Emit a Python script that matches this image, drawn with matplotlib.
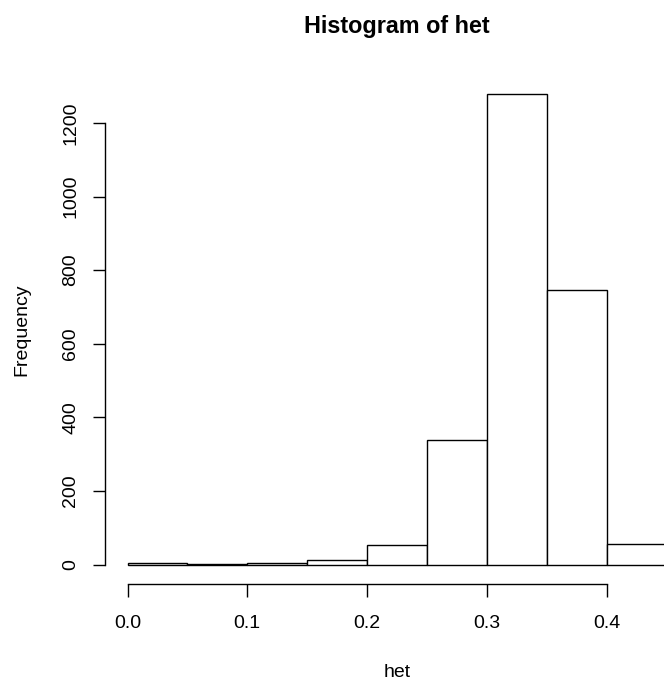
import matplotlib
matplotlib.use("Agg")
import matplotlib.pyplot as plt
import numpy as np

plt.rcParams['font.family'] = ['Liberation Sans', 'DejaVu Sans']

# Data
bin_left = [0.00, 0.05, 0.10, 0.15, 0.20, 0.25, 0.30, 0.35, 0.40]
bin_width = 0.05
counts = [5, 2, 4, 12, 54, 340, 1279, 745, 56]
x_ticks = [0.0, 0.1, 0.2, 0.3, 0.4]
x_tick_labels = ["0.0", "0.1", "0.2", "0.3", "0.4"]
y_ticks = [0, 200, 400, 600, 800, 1000, 1200]
y_tick_labels = ["0", "200", "400", "600", "800", "1000", "1200"]

W, H = 664, 683
fig = plt.figure(figsize=(W / 100, H / 100), dpi=100)

left_px = 105.3
bottom_px = 583.5
top_px = 75.0
ax = fig.add_axes([left_px / W, 1 - bottom_px / H, 1 - left_px / W, (bottom_px - top_px) / H])

ax.bar(bin_left, counts, width=bin_width, align='edge', facecolor='white',
       edgecolor='black', linewidth=1.0)

# R-style ranges (4% extension); plot region extends past the right image edge
ax.set_xlim(-0.01854, (W - 127.5) / 1197.5)
ymax = max(counts)
ax.set_ylim(-0.04 * ymax, 1.04 * ymax)

for s in ['top', 'right']:
    ax.spines[s].set_visible(False)
ax.spines['left'].set_bounds(0, 1200)
ax.spines['bottom'].set_bounds(0, 0.4)
for s in ['left', 'bottom']:
    ax.spines[s].set_linewidth(1.0)
    ax.spines[s].set_color('black')

ax.set_xticks(x_ticks)
ax.set_xticklabels(x_tick_labels)
ax.set_yticks(y_ticks)
ax.set_yticklabels(y_tick_labels, rotation=90, va='center')
ax.tick_params(axis='x', direction='out', length=9.4, width=1.0, pad=13, labelsize=14)
ax.tick_params(axis='y', direction='out', length=8.6, width=1.0, pad=10, labelsize=14)

fig.text(397 / W, 1 - 33.3 / H, "Histogram of het", ha='center', va='baseline',
         fontsize=16.8, fontweight='bold')
fig.text(397 / W, 1 - 676.7 / H, "het", ha='center', va='baseline', fontsize=14)
fig.text(22 / W, 1 - 329.5 / H, "Frequency", ha='center', va='center',
         rotation=90, fontsize=14)

fig.savefig("out.png", dpi=100)
